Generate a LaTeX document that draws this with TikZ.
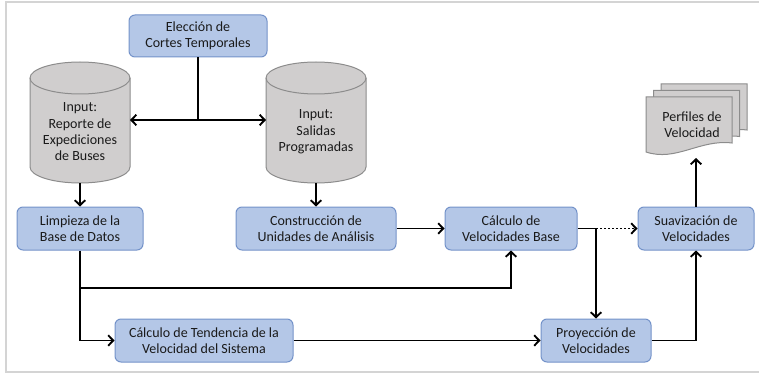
\documentclass[tikz,border=0pt]{standalone}
\usepackage{fontspec}
\setmainfont{Carlito}
\usetikzlibrary{arrows.meta}
\definecolor{boxfill}{HTML}{B4C7E7}
\definecolor{boxline}{HTML}{7392C9}
\definecolor{dbfill}{HTML}{D0CECE}
\definecolor{dbline}{HTML}{8C8C8C}
\definecolor{ink}{HTML}{1A1A1A}
\definecolor{framegray}{HTML}{D4D4D4}

% upright cylinder: left x, top y, width, height (pixel-like units, y downward)
\newcommand\dbcylinder[4]{%
  \path[db] (#1,#2+16) -- (#1,#2+#4-16)
    arc[start angle=180,end angle=360,x radius=#3/2*1pt,y radius=16pt]
    -- (#1+#3,#2+16)
    arc[start angle=0,end angle=180,x radius=#3/2*1pt,y radius=16pt] -- cycle;
  \draw[db,fill=none] (#1,#2+16)
    arc[start angle=180,end angle=360,x radius=#3/2*1pt,y radius=16pt];
}
% one sheet of the stacked document, shifted by (#1,#2)
\newcommand\docsheet[2]{%
  \path[db] (646+#1,97+#2) -- (732+#1,97+#2) -- (732+#1,143+#2)
    .. controls (700+#1,139+#2) and (676+#1,162+#2) .. (646+#1,152+#2) -- cycle;
}

\begin{document}
\begin{tikzpicture}[x=1pt,y=-1pt,
  every node/.style={font=\fontsize{14}{16.3}\selectfont, text=ink, align=center},
  proc/.style={draw=boxline, fill=boxfill, line width=1pt, rounded corners=6pt,
               inner sep=0pt, minimum height=43pt},
  db/.style={draw=dbline, fill=dbfill, line width=1pt},
  link/.style={line width=1.9pt, line join=miter},
  flow/.style={link, -{Straight Barb[length=5pt,width=10.5pt,line width=1.9pt]}},
  flow2/.style={link, {Straight Barb[length=5pt,width=10.5pt,line width=1.9pt]}-{Straight Barb[length=5pt,width=10.5pt,line width=1.9pt]}},
]
\useasboundingbox (0,0) rectangle (759,374);
\draw[framegray, line width=1.5pt] (759,2) -- (6,2) -- (6,372) -- (759,372);

% process boxes
\node[proc, minimum width=138pt, minimum height=42pt] (elec) at (198,36) {Elección de\\Cortes Temporales};
\node[proc, minimum width=126pt] (limp) at (80,228.5) {Limpieza de la\\Base de Datos};
\node[proc, minimum width=160pt] (cons) at (316,228.5) {Construcción de\\Unidades de Análisis};
\node[proc, minimum width=132pt] (base) at (511,228.5) {Cálculo de\\Velocidades Base};
\node[proc, minimum width=116pt] (suav) at (696,228.5) {Suavización de\\Velocidades};
\node[proc, minimum width=178pt] (tend) at (204,340.5) {Cálculo de Tendencia de la\\Velocidad del Sistema};
\node[proc, minimum width=110pt] (proy) at (596,340.5) {Proyección de\\Velocidades};

% data sources
\dbcylinder{30}{62}{100}{121}
\node (rep) at (80,132) {Input:\\Reporte de\\Expediciones\\de Buses};
\dbcylinder{266}{62}{100}{121}
\node (sal) at (316,132) {Input:\\Salidas\\Programadas};

% output document stack
\docsheet{15}{-13}
\docsheet{7.5}{-6.5}
\docsheet{0}{0}
\node (perf) at (692,125) {Perfiles de\\Velocidad};

% connector end points
\coordinate (repout) at (80,183);
\coordinate (salout) at (316,183);
\coordinate (repin) at (130,120);
\coordinate (salin) at (266,120);
\coordinate (hub) at (elec.south |- repin);
\coordinate (split) at (80,288);
\coordinate (j) at (base.east -| proy.north);
\coordinate (perfin) at (696,158);

% connectors
\draw[link] (elec.south) -- (hub);
\draw[flow2] (repin) -- (salin);
\draw[flow] (repout) -- (limp.north);
\draw[flow] (salout) -- (cons.north);
\draw[flow] (cons.east) -- (base.west);
\draw[link] (base.east) -- (j);
\draw[flow] (j) -- (proy.north);
\draw[flow, dash pattern=on 2.2pt off 1.8pt] (j) -- (suav.west);
\draw[link] (limp.south) -- (split);
\draw[flow] (split) -| (base.south);
\draw[flow] (split) |- (tend.west);
\draw[flow] (tend.east) -- (proy.west);
\draw[flow] (proy.east) -| (suav.south);
\draw[flow] (suav.north) -- (perfin);
\end{tikzpicture}
\end{document}
